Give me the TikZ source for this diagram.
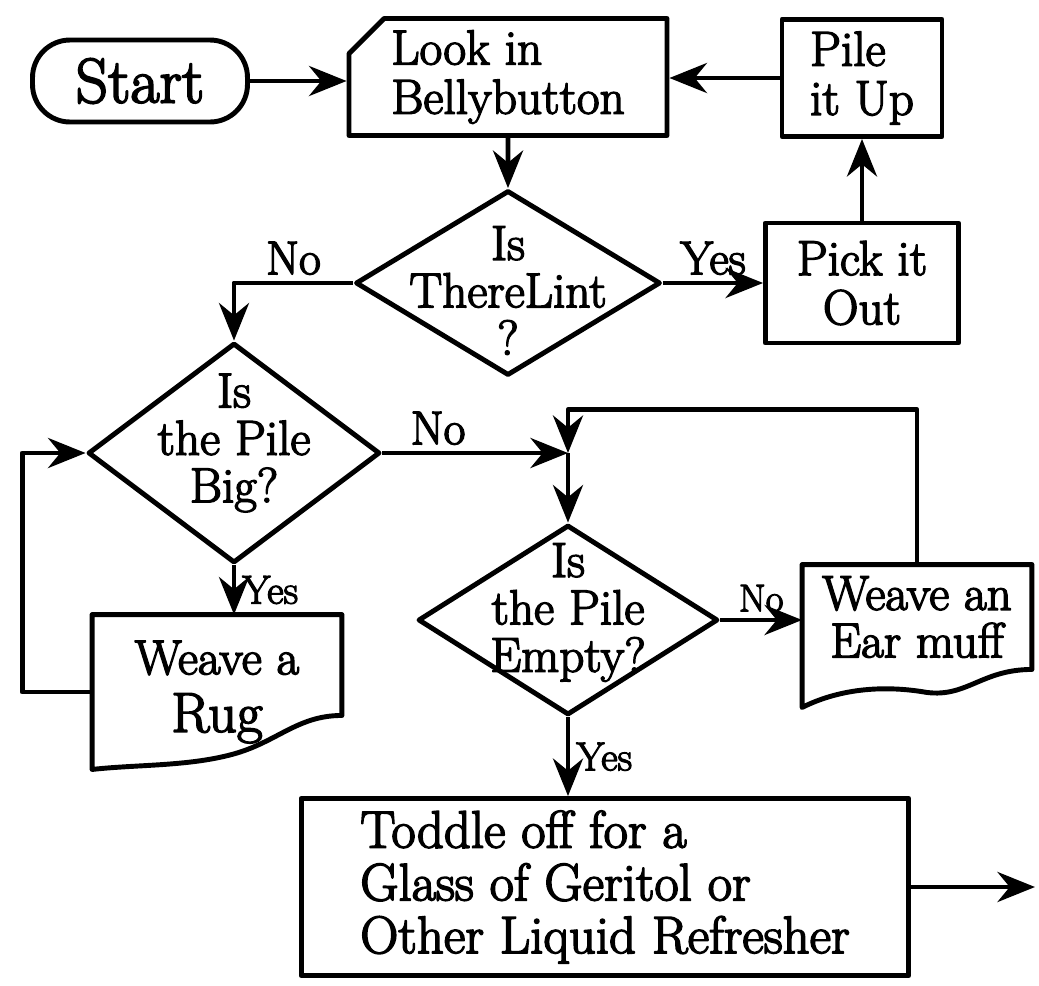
\documentclass[tikz,border=0pt]{standalone}
\usepackage{fontspec}
\setmainfont{Latin Modern Roman}[FakeBold=3]
\usetikzlibrary{shapes.geometric,shapes.misc,arrows.meta}
\begin{document}
\begin{tikzpicture}[x=0.02cm,y=-0.02cm,line width=2.8pt,line join=round]

  % Definitions
  \tikzstyle{Terminal} = [rectangle, rounded corners=0.75cm, minimum width=4.3cm, minimum height=1.64cm, draw=black, font=\fontsize{36}{38}\selectfont]
  \tikzstyle{Card} = [chamfered rectangle, chamfered rectangle corners=north west, chamfered rectangle xsep=0.6cm, draw=black, align=left, font=\fontsize{28}{28}\selectfont]
  \tikzstyle{Process} = [rectangle, draw=black, align=center, font=\fontsize{28}{28}\selectfont]
  \tikzstyle{Decision} = [diamond, draw=black, inner sep=0pt]
  \tikzstyle{Question} = [align=center, font=\fontsize{28}{27}\selectfont]
  \tikzstyle{Sheet} = [rectangle, align=center, font=\fontsize{28}{27}\selectfont]
  \tikzstyle{Answer} = [font=\fontsize{27}{27}\selectfont]
  \tikzstyle{arrow} = [->,>={Stealth[length=7.5mm,width=6mm]}]

  \useasboundingbox (0,0) rectangle (1039,985);

  \node (Start) [Terminal] at (140,81) {Start};
  \node (Look) [Card, minimum width=6.36cm, minimum height=2.34cm] at (508,77) {Look in\\Bellybutton};
  \node (PileUp) [Process, align=left, minimum width=3.2cm, minimum height=2.34cm] at (862,78) {Pile\\it Up};

  \node (Lint) [Decision, minimum width=6.1cm, minimum height=3.7cm] at (508,283) {};
  \node (LintText) [Question, yshift=-0.15cm] at (Lint) {Is\\ThereLint\\?};
  \node (PickOut) [Process, minimum width=3.86cm, minimum height=2.4cm] at (862,283) {Pick it\\Out};

  \node (Big) [Decision, minimum width=5.84cm, minimum height=4.4cm] at (234,453) {};
  \node (BigText) [Question, yshift=0.2cm] at (Big) {Is\\the Pile\\Big?};
  \node (Rug) [Sheet, minimum width=4.9cm, minimum height=3cm] at (217,692) {Weave a\\[0.2cm]{\fontsize{32}{32}\selectfont Rug}};

  \node (Empty) [Decision, minimum width=6cm, minimum height=3.8cm] at (568,620) {};
  \node (EmptyText) [Question, yshift=0.15cm] at (Empty) {Is\\the Pile\\Empty?};
  \node (Earmuff) [Sheet, minimum width=4.5cm, minimum height=2cm] at (917,617) {Weave an\\Ear muff};

  \node (Toddle) [Process, align=left, minimum width=12.16cm, minimum height=3.54cm, font=\fontsize{30}{30}\selectfont] at (605,887) {Toddle off for a\\Glass of Geritol or\\Other Liquid Refresher};

  \coordinate (Join) at (Empty.north |- Big.east);
  \coordinate (Exit) at (1035,887);

  % torn bottoms
  \draw (Rug.north west) -- (Rug.north east) -- ([yshift=1.08cm]Rug.south east)
    .. controls +(-45,0) and +(45,-12) .. ++(-110,39)
    .. controls +(-45,12) and +(45,-5) .. (Rug.south west) -- cycle;
  \draw (Earmuff.north west) -- (Earmuff.north east) -- (Earmuff.south east)
    .. controls +(-50,0) and +(40,5) .. ++(-105,23)
    .. controls +(-40,-7) and +(40,-20) .. ([yshift=-0.76cm]Earmuff.south west) -- cycle;

  \draw [arrow] (Start.east) -- (Start.east -| Look.west);
  \draw [arrow] (Look) -- (Lint);
  \draw [arrow] (Lint.east) -- node[Answer, above] {Yes} (PickOut.west);
  \draw [arrow] (PickOut) -- (PileUp);
  \draw [arrow] (PileUp.west) -- (PileUp.west -| Look.east);
  \draw [arrow] (Lint.west) -| node[Answer, above, pos=0.25] {No} (Big.north);
  \draw [arrow] (Big.east) -- node[Answer, above, pos=0.3] {No} (Join);
  \draw [arrow] (Earmuff.north) -- ++(0,-155) -| (Join);
  \draw [arrow] (Join) -- (Empty.north);
  \draw [arrow] (Big.south) -- node[Answer, right, font=\fontsize{23}{23}\selectfont] {Yes} (Big.south |- Rug.north);
  \draw [arrow] (Rug.west) -- ++(-70,0) |- (Big.west);
  \draw [arrow] (Empty.east) -- node[Answer, above, font=\fontsize{22}{22}\selectfont] {No} (Empty.east -| Earmuff.west);
  \draw [arrow] (Empty.south) -- node[Answer, right, font=\fontsize{23}{23}\selectfont] {Yes} (Empty.south |- Toddle.north);
  \draw [arrow] (Toddle) -- (Exit);

\end{tikzpicture}
\end{document}
